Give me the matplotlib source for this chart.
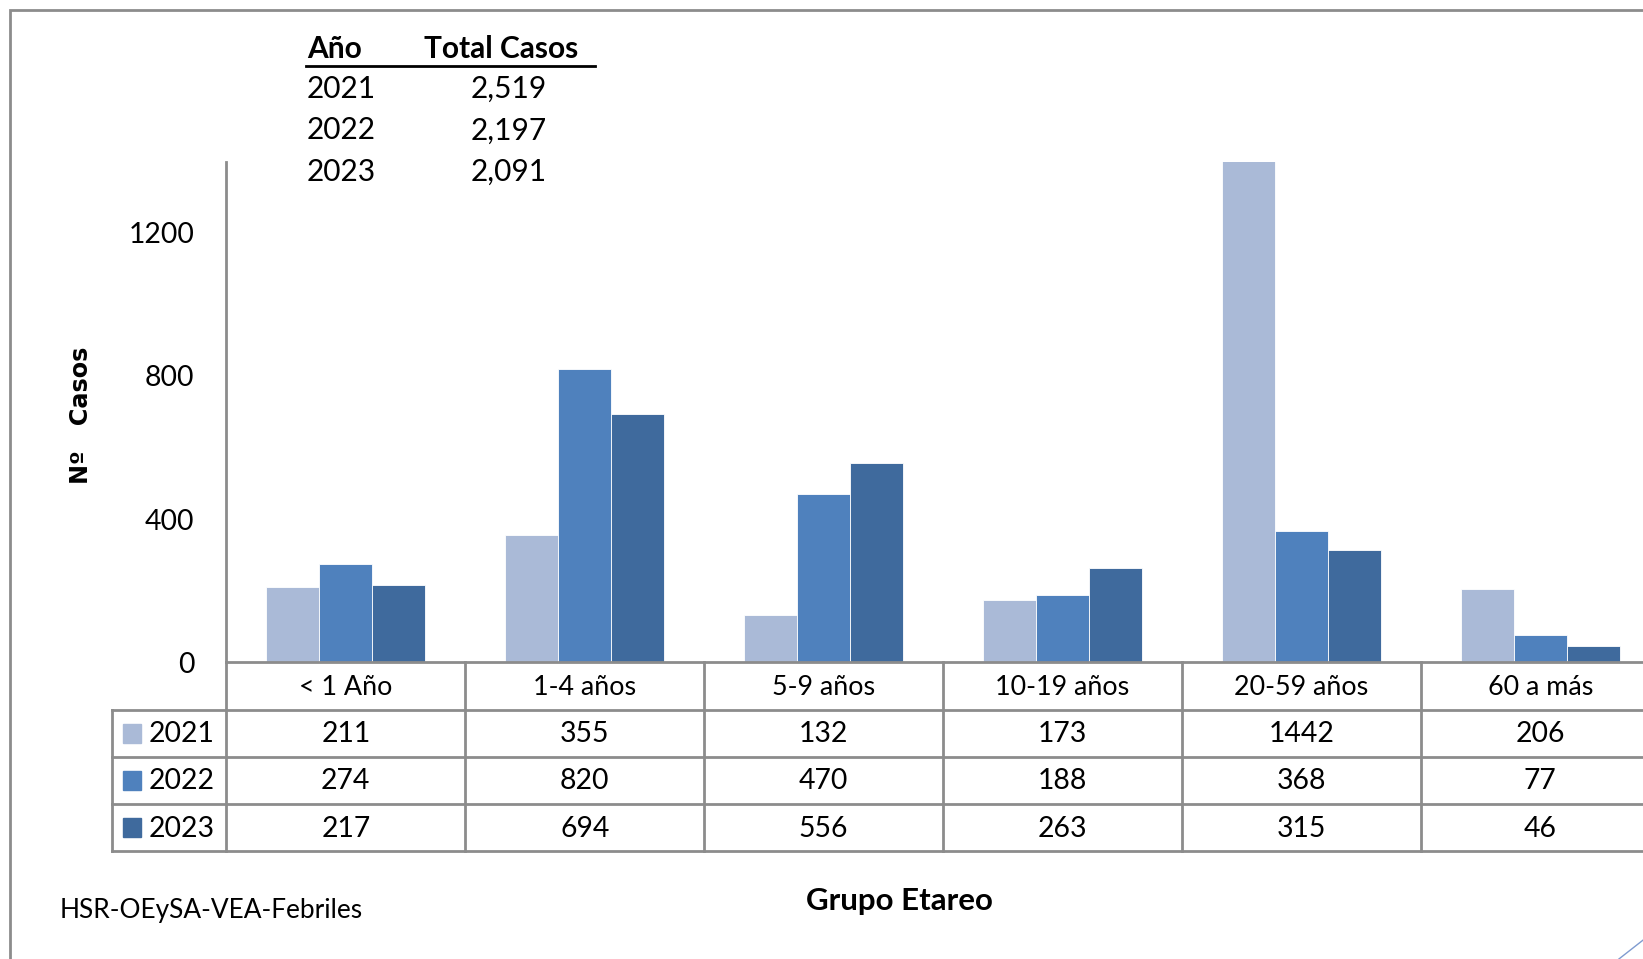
#!/usr/bin/env python3
"""Casos de febriles por grupo etareo, 2021-2023, con tabla de datos."""

import matplotlib
matplotlib.use("Agg")
import matplotlib.pyplot as plt
from matplotlib.lines import Line2D
from matplotlib.patches import Rectangle
from matplotlib.transforms import blended_transform_factory

# data
groups = ["< 1 Año", "1-4 años", "5-9 años", "10-19 años", "20-59 años", "60 a más"]
years = ["2021", "2022", "2023"]
cases_2021 = [211, 355, 132, 173, 1442, 206]
cases_2022 = [274, 820, 470, 188, 368, 77]
cases_2023 = [217, 694, 556, 263, 315, 46]
totals = ["2,519", "2,197", "2,091"]
yticks = [0, 400, 800, 1200]

series = [cases_2021, cases_2022, cases_2023]
colors = ["#AABAD7", "#4F81BD", "#3F6A9D"]
GRID = "#8C8C8C"

plt.rcParams["font.family"] = ["Lato", "DejaVu Sans"]

# layout units: reference measured on a 1568 x 915 grid, output 1643 x 959 px
W, H = 1568, 915
K = 1643 / 1568  # font scale
fig = plt.figure(figsize=(16.43, 9.59), dpi=100)


def fx(px):
    return px / W


def fy(py):
    return 1 - py / H


def fs(size):
    return size * K


AX_L, AX_T, AX_B = 216, 155, 632
CAT_W = 228
AX_R = 1650
ROW_H = 45

ax = fig.add_axes([fx(AX_L), fy(AX_B), fx(AX_R - AX_L), fy(AX_T) - fy(AX_B)])
ax.set_xlim(-0.5, -0.5 + (AX_R - AX_L) / CAT_W)
ax.set_ylim(0, 400 * (AX_B - AX_T) / 136.7)

bar_w = 0.222
for k, vals in enumerate(series):
    xs = [i + (k - 1) * bar_w for i in range(len(groups))]
    ax.bar(xs, vals, width=bar_w, color=colors[k], edgecolor="white", linewidth=0.6)

for s in ["top", "right"]:
    ax.spines[s].set_visible(False)
for s in ["left", "bottom"]:
    ax.spines[s].set_color(GRID)
    ax.spines[s].set_linewidth(2)
ax.set_xticks([])
ax.set_yticks(yticks)
ax.set_yticklabels([str(v) for v in yticks], fontsize=fs(19.5))
ax.tick_params(axis="y", length=0, pad=23)

# data table below the axis
tr = blended_transform_factory(ax.transData, fig.transFigure)
row_lines = [AX_B + ROW_H * r for r in range(1, 5)]
for py in row_lines:
    fig.add_artist(Line2D([fx(107), 1.0], [fy(py), fy(py)], color=GRID, lw=2))
fig.add_artist(Line2D([fx(107), fx(107)], [fy(AX_B + ROW_H), fy(row_lines[-1])], color=GRID, lw=2))
fig.add_artist(Line2D([fx(AX_L), fx(AX_L)], [fy(AX_B), fy(row_lines[-1])], color=GRID, lw=2))
for i in range(1, len(groups)):
    fig.add_artist(Line2D([i - 0.5, i - 0.5], [fy(AX_B), fy(row_lines[-1])],
                          transform=tr, color=GRID, lw=2))

for i, g in enumerate(groups):
    fig.text(i, fy(AX_B + ROW_H / 2 + 1), g, transform=tr, ha="center", va="center",
             fontsize=fs(18.5))
    for k, vals in enumerate(series):
        fig.text(i, fy(AX_B + ROW_H * (k + 1.5) + 1), str(vals[i]), transform=tr,
                 ha="center", va="center", fontsize=fs(19.5))

for k, y in enumerate(years):
    cy = AX_B + ROW_H * (k + 1.5)
    fig.add_artist(Rectangle((fx(117), fy(cy + 9)), fx(18), fy(cy - 9) - fy(cy + 9),
                             color=colors[k], transform=fig.transFigure))
    fig.text(fx(142), fy(cy + 1), y, ha="left", va="center", fontsize=fs(19.5))

# summary table at the top
fig.text(fx(293), fy(47), "Año", ha="left", va="center", fontsize=fs(20.5), fontweight="bold")
fig.text(fx(405), fy(47), "Total Casos", ha="left", va="center", fontsize=fs(20.5),
         fontweight="bold")
fig.add_artist(Line2D([fx(292), fx(568)], [fy(63), fy(63)], color="black", lw=2))
for k, y in enumerate(years):
    ty = 85 + 39.5 * k
    fig.text(fx(293), fy(ty), y, ha="left", va="center", fontsize=fs(20.5))
    fig.text(fx(522), fy(ty), totals[k], ha="right", va="center", fontsize=fs(20.5))

# labels
fig.text(fx(77), fy(396), "Nº   Casos", rotation=90, ha="center", va="center",
         fontsize=fs(16.5), fontweight="bold", family=["DejaVu Sans"])
fig.text(fx(858), fy(860), "Grupo Etareo", ha="center", va="center",
         fontsize=fs(21.5), fontweight="bold")
fig.text(fx(57), fy(869), "HSR-OEySA-VEA-Febriles", ha="left", va="center", fontsize=fs(18))

# outer frame and corner mark
fig.add_artist(Rectangle((fx(10), -0.1), 1.2, fy(10) + 0.1, fill=False,
                         edgecolor=GRID, lw=2, transform=fig.transFigure))
fig.add_artist(Line2D([fx(1545), fx(1568)], [fy(915), fy(897)], color="#7F9BD0", lw=1))

fig.savefig("out.png", dpi=100)
